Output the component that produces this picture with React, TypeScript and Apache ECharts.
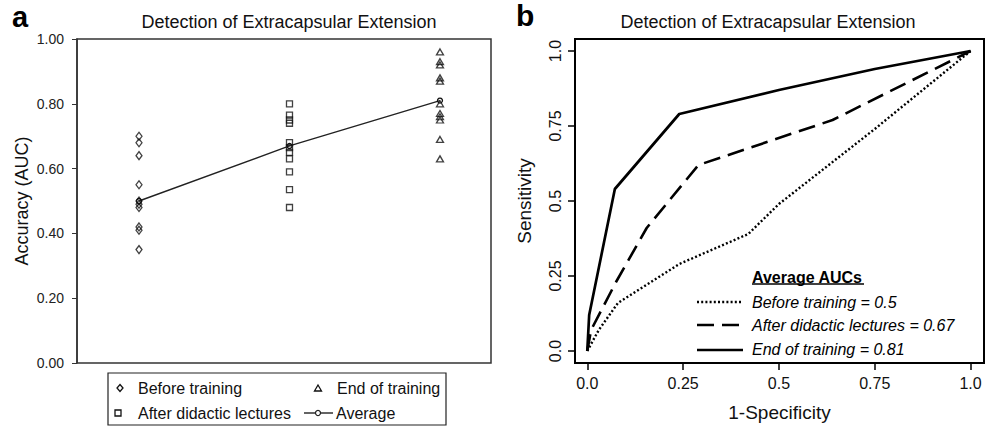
import React, { useEffect, useRef } from 'react';
import * as echarts from 'echarts';

// ---- Panel a: accuracy (AUC) per reader at each stage ----
const stageX = [1, 2, 3];
const beforeTraining = [0.7, 0.68, 0.64, 0.55, 0.5, 0.49, 0.48, 0.42, 0.41, 0.35];
const afterLectures = [0.8, 0.765, 0.75, 0.74, 0.68, 0.665, 0.65, 0.63, 0.59, 0.535, 0.48];
const endTraining = [0.96, 0.93, 0.92, 0.88, 0.87, 0.8, 0.77, 0.76, 0.75, 0.69, 0.63];
const averageAUC = [0.5, 0.67, 0.81];

// ---- Panel b: average ROC curves ----
const rocBeforeX = [0, 0.03, 0.08, 0.24, 0.42, 0.5, 0.75, 1];
const rocBeforeY = [0, 0.07, 0.16, 0.29, 0.39, 0.49, 0.74, 1];
const rocAfterX = [0, 0.01, 0.075, 0.155, 0.29, 0.64, 1];
const rocAfterY = [0, 0.07, 0.23, 0.41, 0.62, 0.77, 1];
const rocEndX = [0, 0.005, 0.072, 0.24, 0.5, 0.75, 1];
const rocEndY = [0, 0.12, 0.54, 0.79, 0.87, 0.94, 1];

const rocTickValues = [0, 0.25, 0.5, 0.75, 1];
const rocTickLabels = ['0.0', '0.25', '0.5', '0.75', '1.0'];

const legendA = ['Before training', 'After didactic lectures', 'End of training', 'Average'];
const legendB = ['Before training = 0.5', 'After didactic lectures = 0.67', 'End of training = 0.81'];

const FONT = '"Liberation Sans", Arial, Helvetica, sans-serif';

export default function App() {
  const ref = useRef<HTMLDivElement>(null);

  useEffect(() => {
    const chart = echarts.init(ref.current!, null, { renderer: 'svg' });
    const pts = (x: number, arr: number[]) => arr.map((v) => [x, v]);
    const zip = (xs: number[], ys: number[]) => xs.map((x, i) => [x, ys[i]]);
    const rocLabel = (v: number) => {
      const i = rocTickValues.findIndex((t) => Math.abs(t - v) < 1e-6);
      return i >= 0 ? rocTickLabels[i] : '';
    };
    const hollow = { color: 'rgba(255,255,255,0)', borderColor: '#111', borderWidth: 1.3 };

    const option: any = {
      animation: false,
      backgroundColor: '#fff',
      textStyle: { fontFamily: FONT },
      title: [
        {
          text: 'Detection of Extracapsular Extension',
          left: 284,
          top: 8,
          textAlign: 'center',
          textStyle: { fontFamily: FONT, fontSize: 18, fontWeight: 'normal', color: '#111' },
        },
        {
          text: 'Detection of Extracapsular Extension',
          left: 763,
          top: 8,
          textAlign: 'center',
          textStyle: { fontFamily: FONT, fontSize: 18, fontWeight: 'normal', color: '#111' },
        },
      ],
      grid: [
        { left: 77, top: 39, width: 414, height: 324, show: true, borderColor: '#333', borderWidth: 1.5, containLabel: false },
        { left: 575, top: 39, width: 409, height: 324, show: true, borderColor: '#000', borderWidth: 2, containLabel: false },
      ],
      xAxis: [
        { gridIndex: 0, type: 'value', min: 0.588, max: 3.339, show: false },
        {
          gridIndex: 1,
          type: 'value',
          min: -0.032,
          max: 1.035,
          splitLine: { show: false },
          axisLine: { show: true, onZero: false, lineStyle: { color: '#000', width: 2 } },
          axisTick: { show: true, length: 7, customValues: rocTickValues, lineStyle: { color: '#000', width: 1.5 } },
          axisLabel: { customValues: rocTickValues, formatter: rocLabel, fontSize: 16, color: '#111', margin: 12, fontFamily: FONT },
          name: '1-Specificity',
          nameLocation: 'middle',
          nameGap: 40,
          nameTextStyle: { fontSize: 19, color: '#111', fontFamily: FONT },
        },
      ],
      yAxis: [
        {
          gridIndex: 0,
          type: 'value',
          min: 0,
          max: 1,
          interval: 0.2,
          splitLine: { show: false },
          axisLine: { show: true, onZero: false, lineStyle: { color: '#333', width: 1.5 } },
          axisTick: { show: true, length: 5, lineStyle: { color: '#333', width: 1 } },
          axisLabel: { formatter: (v: number) => v.toFixed(2), fontSize: 14, color: '#222', margin: 13, fontFamily: FONT },
          name: 'Accuracy (AUC)',
          nameLocation: 'middle',
          nameGap: 46,
          nameTextStyle: { fontSize: 18, color: '#111', fontFamily: FONT },
        },
        {
          gridIndex: 1,
          type: 'value',
          min: -0.04,
          max: 1.04,
          splitLine: { show: false },
          axisLine: { show: true, onZero: false, lineStyle: { color: '#000', width: 2 } },
          axisTick: { show: true, length: 7, customValues: rocTickValues, lineStyle: { color: '#000', width: 1.5 } },
          axisLabel: { customValues: rocTickValues, formatter: rocLabel, rotate: 90, fontSize: 16, color: '#111', margin: 12, fontFamily: FONT },
          name: 'Sensitivity',
          nameLocation: 'middle',
          nameGap: 41,
          nameTextStyle: { fontSize: 19, color: '#111', fontFamily: FONT },
        },
      ],
      series: [
        {
          name: legendA[0], type: 'scatter', xAxisIndex: 0, yAxisIndex: 0,
          data: pts(stageX[0], beforeTraining), symbol: 'diamond', symbolSize: [6, 8], itemStyle: hollow,
        },
        {
          name: legendA[1], type: 'scatter', xAxisIndex: 0, yAxisIndex: 0,
          data: pts(stageX[1], afterLectures), symbol: 'rect', symbolSize: 6, itemStyle: hollow,
        },
        {
          name: legendA[2], type: 'scatter', xAxisIndex: 0, yAxisIndex: 0,
          data: pts(stageX[2], endTraining), symbol: 'triangle', symbolSize: [7, 6], itemStyle: hollow,
        },
        {
          name: legendA[3], type: 'line', xAxisIndex: 0, yAxisIndex: 0,
          data: zip(stageX, averageAUC), symbol: 'circle', symbolSize: 5, showSymbol: true,
          lineStyle: { color: '#222', width: 1.4 }, itemStyle: hollow, z: 3,
        },
        {
          name: legendB[0], type: 'line', xAxisIndex: 1, yAxisIndex: 1, data: zip(rocBeforeX, rocBeforeY),
          symbol: 'none', smooth: false, lineStyle: { color: '#000', width: 2.4, type: [2, 2.2] },
        },
        {
          name: legendB[1], type: 'line', xAxisIndex: 1, yAxisIndex: 1, data: zip(rocAfterX, rocAfterY),
          symbol: 'none', smooth: false, lineStyle: { color: '#000', width: 2.6, type: [17, 8] },
        },
        {
          name: legendB[2], type: 'line', xAxisIndex: 1, yAxisIndex: 1, data: zip(rocEndX, rocEndY),
          symbol: 'none', smooth: false, lineStyle: { color: '#000', width: 2.7 },
        },
      ],
      graphic: [
        // panel letters
        { type: 'text', left: 12, top: 2, style: { text: 'a', font: `bold 29px ${FONT}`, fill: '#000' } },
        { type: 'text', left: 516, top: 0, style: { text: 'b', font: `bold 30px ${FONT}`, fill: '#000' } },
        // panel a legend box
        { type: 'rect', shape: { x: 108, y: 373, width: 338, height: 52 }, style: { fill: '#fff', stroke: '#222', lineWidth: 1.2 } },
        { type: 'polygon', shape: { points: [[120, 384.5], [123, 388], [120, 391.5], [117, 388]] }, style: { fill: 'none', stroke: '#111', lineWidth: 1.3 } },
        { type: 'text', x: 138, y: 388, style: { text: legendA[0], font: `16px ${FONT}`, fill: '#111', verticalAlign: 'middle' } },
        { type: 'polygon', shape: { points: [[318, 385], [321.5, 391], [314.5, 391]] }, style: { fill: 'none', stroke: '#111', lineWidth: 1.3 } },
        { type: 'text', x: 337, y: 388, style: { text: legendA[2], font: `16px ${FONT}`, fill: '#111', verticalAlign: 'middle' } },
        { type: 'rect', shape: { x: 115, y: 410, width: 6, height: 6 }, style: { fill: 'none', stroke: '#111', lineWidth: 1.3 } },
        { type: 'text', x: 138, y: 413, style: { text: legendA[1], font: `16px ${FONT}`, fill: '#111', verticalAlign: 'middle' } },
        { type: 'line', shape: { x1: 304, y1: 413, x2: 333, y2: 413 }, style: { stroke: '#222', lineWidth: 1.4 } },
        { type: 'circle', shape: { cx: 318, cy: 413, r: 2.5 }, style: { fill: '#fff', stroke: '#222', lineWidth: 1.2 } },
        { type: 'text', x: 336, y: 413, style: { text: legendA[3], font: `16px ${FONT}`, fill: '#111', verticalAlign: 'middle' } },
        // panel b legend
        { type: 'text', x: 752, y: 277, style: { text: 'Average AUCs', font: `bold 16px ${FONT}`, fill: '#000', verticalAlign: 'middle' } },
        { type: 'line', shape: { x1: 752, y1: 284, x2: 864, y2: 284 }, style: { stroke: '#000', lineWidth: 1.3 } },
        { type: 'line', shape: { x1: 697, y1: 302, x2: 742, y2: 302 }, style: { stroke: '#000', lineWidth: 2.4, lineDash: [2, 2.2] } },
        { type: 'text', x: 752, y: 302, style: { text: legendB[0], font: `italic 16px ${FONT}`, fill: '#000', verticalAlign: 'middle' } },
        { type: 'line', shape: { x1: 697, y1: 325, x2: 743, y2: 325 }, style: { stroke: '#000', lineWidth: 2.6, lineDash: [17, 8] } },
        { type: 'text', x: 752, y: 325, style: { text: legendB[1], font: `italic 16px ${FONT}`, fill: '#000', verticalAlign: 'middle' } },
        { type: 'line', shape: { x1: 697, y1: 350, x2: 743, y2: 350 }, style: { stroke: '#000', lineWidth: 2.7 } },
        { type: 'text', x: 752, y: 349, style: { text: legendB[2], font: `italic 16px ${FONT}`, fill: '#000', verticalAlign: 'middle' } },
      ],
    };

    chart.setOption(option);
    return () => chart.dispose();
  }, []);

  return (
    <div
      ref={ref}
      style={{ position: 'absolute', left: 0, top: 0, width: 992, height: 431, background: '#fff' }}
    />
  );
}
